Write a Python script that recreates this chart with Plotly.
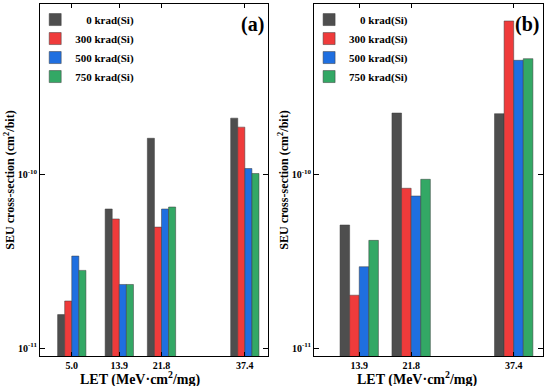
import plotly.graph_objects as go

# ---------------- data ----------------
series_names = ["\u00a0\u00a0\u00a0\u00a00 krad(Si)", "300 krad(Si)", "500 krad(Si)", "750 krad(Si)"]
colors = ["#4e4e4e", "#ef3b3b", "#1f6fe0", "#33a865"]

let_a = [5.0, 13.9, 21.8, 37.4]
let_a_labels = ["5.0", "13.9", "21.8", "37.4"]
a_0 = [1.56e-11, 6.36e-11, 1.63e-10, 2.13e-10]
a_300 = [1.87e-11, 5.57e-11, 5.0e-11, 1.89e-10]
a_500 = [3.40e-11, 2.33e-11, 6.36e-11, 1.09e-10]
a_750 = [2.81e-11, 2.33e-11, 6.53e-11, 1.02e-10]

let_b = [13.9, 21.8, 37.4]
let_b_labels = ["13.9", "21.8", "37.4"]
b_0 = [5.14e-11, 2.28e-10, 2.26e-10]
b_300 = [2.02e-11, 8.38e-11, 7.76e-10]
b_500 = [2.95e-11, 7.56e-11, 4.60e-10]
b_750 = [4.19e-11, 9.44e-11, 4.70e-10]

y_major = [1e-11, 1e-10]
y_major_labels = ["10<sup>-11</sup>", "10<sup>-10</sup>"]
y_minor = [k * 1e-11 for k in range(2, 10)] + [k * 1e-10 for k in range(2, 10)]

FONT = "Liberation Serif"
Y_RANGE = [-11.046, -9.012]

fig = go.Figure()

panels = [
    ("x", "y", "legend", let_a, [a_0, a_300, a_500, a_750], 1.325),
    ("x2", "y2", "legend2", let_b, [b_0, b_300, b_500, b_750], 1.46),
]
for xa, ya, lg, xs, series, w in panels:
    for i, (name, col, vals) in enumerate(zip(series_names, colors, series)):
        fig.add_trace(go.Bar(
            x=xs, y=vals, name=name, xaxis=xa, yaxis=ya, legend=lg,
            width=w, offset=(i - 2) * w,
            marker=dict(color=col, line=dict(color="#3a3a3a", width=0.5)),
        ))

axis_common = dict(
    showline=True, linecolor="black", linewidth=1, mirror="ticks",
    showgrid=False, zeroline=False, ticks="inside", tickcolor="black",
    automargin=False,
)
tickfont = dict(family=FONT, size=10, color="black", weight="bold")

x_common = dict(axis_common, ticklen=4, tickfont=tickfont)
y_common = dict(
    axis_common, type="log", range=Y_RANGE, ticklen=5,
    tickvals=y_major, ticktext=y_major_labels, tickfont=tickfont,
)
y_minor_axis = dict(
    axis_common, type="log", range=Y_RANGE, ticklen=4,
    tickvals=y_minor, showticklabels=False,
)

legend_common = dict(
    font=dict(family=FONT, size=11, color="black", weight="bold"),
    bgcolor="rgba(0,0,0,0)", xanchor="left", yanchor="top",
    itemwidth=30, tracegroupgap=0,
)

ytitle = dict(text="SEU cross-section (cm<sup>2</sup>/bit)", standoff=0,
              font=dict(family=FONT, size=12, color="black", weight="bold"))

fig.update_layout(
    width=550, height=386,
    margin=dict(l=0, r=0, t=4, b=30),
    paper_bgcolor="white", plot_bgcolor="white",
    font=dict(family=FONT, color="black", weight="bold"),
    barmode="overlay",
    xaxis=dict(x_common, domain=[0.0727, 0.4873], range=[-0.95, 41.74],
               tickvals=let_a, ticktext=let_a_labels, anchor="y"),
    yaxis=dict(y_common, anchor="x", title=ytitle),
    yaxis3=dict(y_minor_axis, anchor="x", overlaying="y", side="left"),
    xaxis2=dict(x_common, domain=[0.5709, 0.9873], range=[7.02, 41.86],
                tickvals=let_b, ticktext=let_b_labels, anchor="y2"),
    yaxis2=dict(y_common, anchor="x2", title=ytitle),
    yaxis4=dict(y_minor_axis, anchor="x2", overlaying="y2", side="left"),
    legend=dict(legend_common, x=0.064, y=0.997),
    legend2=dict(legend_common, x=0.562, y=0.997),
    showlegend=True,
)

ann_font = dict(family=FONT, size=14, color="black", weight="bold")
fig.add_annotation(text="LET (MeV·cm<sup>2</sup>/mg)", xref="paper", yref="paper",
                   x=140 / 550, y=0.0, yshift=-22, xanchor="center", yanchor="middle",
                   showarrow=False, font=ann_font)
fig.add_annotation(text="LET (MeV·cm<sup>2</sup>/mg)", xref="paper", yref="paper",
                   x=417 / 550, y=0.0, yshift=-22, xanchor="center", yanchor="middle",
                   showarrow=False, font=ann_font)
lab_font = dict(family=FONT, size=20, color="black", weight="bold")
fig.add_annotation(text="(a)", xref="x domain", yref="y domain", x=0.99, y=0.98,
                   xanchor="right", yanchor="top", showarrow=False, font=lab_font)
fig.add_annotation(text="(b)", xref="x2 domain", yref="y2 domain", x=0.99, y=0.98,
                   xanchor="right", yanchor="top", showarrow=False, font=lab_font)

fig.write_html("out.html", config={"displayModeBar": False},
               post_script="document.body.style.margin='0px';document.body.style.padding='0px';")
